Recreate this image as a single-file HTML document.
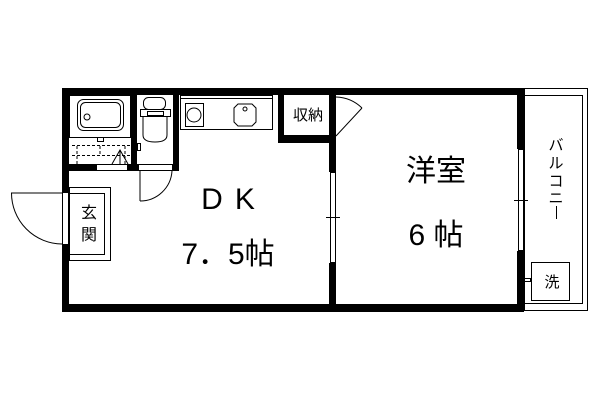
<!DOCTYPE html>
<html><head><meta charset="utf-8"><style>
html,body{margin:0;padding:0;background:#fff;width:600px;height:400px;overflow:hidden}
svg{display:block}
text{font-family:"Liberation Sans","Noto Sans CJK JP",sans-serif;fill:#000}
</style></head><body>
<svg width="600" height="400" viewBox="0 0 600 400" xmlns="http://www.w3.org/2000/svg">
<g fill="#000">
<rect x="62" y="88" width="462" height="7"/>
<rect x="62" y="304" width="462" height="8"/>
<rect x="62" y="88" width="7" height="105"/>
<rect x="62" y="244" width="7" height="68"/>
<rect x="517" y="88" width="7" height="61"/>
<rect x="517" y="251" width="7" height="61"/>
<rect x="329" y="88" width="7" height="84"/>
<rect x="329" y="263" width="7" height="48"/>
<rect x="62" y="164" width="35" height="7"/>
<rect x="127" y="164" width="12" height="7"/>
<rect x="172" y="164" width="7" height="7"/>
<rect x="131" y="88" width="6" height="83"/>
<rect x="173" y="88" width="6" height="83"/>
<rect x="278" y="88" width="6" height="55"/>
<rect x="278" y="135" width="58" height="8"/>
</g>
<g fill="none" stroke="#000" stroke-width="1">
<rect x="330.5" y="172.5" width="5" height="90"/>
<line x1="326" y1="217.5" x2="340" y2="217.5"/>
<rect x="518.5" y="149.5" width="5" height="101"/>
<line x1="514" y1="200.5" x2="528" y2="200.5"/>
<rect x="524.5" y="88.5" width="63" height="222"/>
<rect x="524.5" y="95.5" width="58" height="208"/>
<rect x="531.5" y="262.5" width="38" height="38"/>
<rect x="524.5" y="278.5" width="6" height="3"/>
<rect x="69.5" y="187.5" width="41" height="73"/>
<rect x="69.5" y="193.5" width="35" height="61"/>
<line x1="62.5" y1="193" x2="62.5" y2="244"/><line x1="68.5" y1="193" x2="68.5" y2="244"/>
<path d="M11 193 L62 193"/>
<path d="M11.5 193 A51 51 0 0 0 62 244"/>
<rect x="69.5" y="95.5" width="61" height="42"/>
<rect x="77.5" y="99.5" width="46" height="31" rx="6"/>
<rect x="80.5" y="102.5" width="40" height="25" rx="5"/>
<circle cx="87" cy="117" r="3"/>
<rect x="97.5" y="137.5" width="6" height="4"/>
<path d="M72 145.5 H130 M72 155.5 H130 M77 146 V164 M100 146 V156 M125 146 V164" stroke-dasharray="3,2"/>
<path d="M112 164 L120 150 L128 164 M120 150 V164"/>
<line x1="97" y1="164.5" x2="127" y2="164.5"/><line x1="97" y1="170.5" x2="127" y2="170.5"/>
<rect x="143.5" y="97.5" width="22" height="12" rx="5"/>
<rect x="140.5" y="109.5" width="30" height="7"/>
<rect x="147.5" y="111.5" width="16" height="4"/>
<path d="M143 117 V135 Q143 142 155 142 Q167 142 167 135 V117"/>
<rect x="137.5" y="143.5" width="3" height="7"/>
<line x1="139" y1="164.5" x2="172" y2="164.5"/><line x1="139" y1="170.5" x2="172" y2="170.5"/>
<path d="M140 171 V201 M140 201 A32 32 0 0 0 172 171"/>
<rect x="180.5" y="95.5" width="92" height="34"/>
<rect x="180.5" y="95.5" width="92" height="3"/>
<rect x="185.5" y="103.5" width="18" height="23"/>
<circle cx="194" cy="115" r="7"/>
<path d="M238 104 H252 L256 108 V122 L252 126 H238 L234 122 V108 Z"/>
<circle cx="245" cy="109" r="2"/>
<rect x="329.5" y="95.5" width="6" height="40"/>
<path d="M336 136 L362 108 M336 97 A39 39 0 0 1 362 108"/>
<line x1="556.5" y1="206" x2="556.5" y2="219"/>
</g>
<g font-size="15" text-anchor="middle">
<text x="308" y="120">収納</text>
<text x="89" y="218" font-size="16">玄</text>
<text x="89" y="240" font-size="16">関</text>
<text x="552" y="287">洗</text>
</g>
<g font-size="15" text-anchor="middle">
<text x="556" y="150">バ</text>
<text x="556" y="168">ル</text>
<text x="556" y="186">コ</text>
<text x="556" y="203">ニ</text>
</g>
<g font-size="30" text-anchor="middle">
<text x="234" y="209" letter-spacing="12">DK</text>
<text x="228" y="264">7．5帖</text>
<text x="436" y="181">洋室</text>
<text x="436" y="245">6 帖</text>
</g>
</svg>
</body></html>
